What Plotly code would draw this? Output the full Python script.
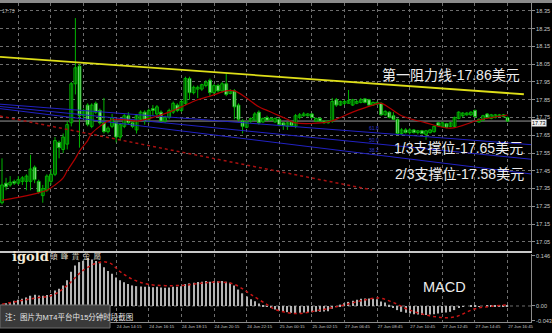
import plotly.graph_objects as go

# ---------------- data ----------------
bar_index = list(range(125))
opens = [17.27, 17.38, 17.37, 17.39, 17.38, 17.39, 17.39, 17.39, 17.47, 17.39,
         17.31, 17.34, 17.39, 17.43, 17.61, 17.57, 17.60, 17.72, 17.94, 18.04,
         17.76, 17.82, 17.70, 17.83, 17.79, 17.72, 17.67, 17.70, 17.72, 17.64,
         17.70, 17.76, 17.72, 17.68, 17.74, 17.78, 17.74, 17.80, 17.77, 17.78,
         17.73, 17.75, 17.78, 17.82, 17.79, 17.83, 17.97, 17.89, 17.91, 17.91,
         17.93, 17.96, 17.89, 17.93, 17.90, 17.94, 17.885, 17.90, 17.82, 17.73,
         17.695, 17.73, 17.735, 17.78, 17.725, 17.75, 17.735, 17.725, 17.74, 17.72,
         17.70, 17.725, 17.70, 17.75, 17.76, 17.76, 17.77, 17.73, 17.745, 17.73,
         17.72, 17.73, 17.85, 17.82, 17.83, 17.83, 17.82, 17.83, 17.835, 17.855,
         17.85, 17.82, 17.825, 17.83, 17.765, 17.78, 17.76, 17.74, 17.66, 17.68,
         17.665, 17.68, 17.665, 17.675, 17.655, 17.665, 17.67, 17.72, 17.70, 17.715,
         17.70, 17.70, 17.745, 17.76, 17.765, 17.765, 17.79, 17.725, 17.735, 17.77,
         17.745, 17.75, 17.76, 17.755, 17.75]
highs = [17.52, 17.41, 17.42, 17.40, 17.42, 17.42, 17.43, 17.54, 17.48, 17.40,
         17.37, 17.43, 17.46, 17.64, 17.62, 17.66, 17.73, 17.95, 18.31, 18.05,
         17.80, 17.83, 17.83, 17.84, 17.80, 17.86, 17.70, 17.77, 17.73, 17.72,
         17.77, 17.78, 17.73, 17.77, 17.79, 17.79, 17.80, 17.82, 17.82, 17.79,
         17.76, 17.80, 17.84, 17.83, 17.85, 17.98, 17.98, 17.93, 17.93, 17.94,
         17.96, 17.97, 17.94, 17.94, 17.95, 18.00, 17.91, 17.91, 17.83, 17.74,
         17.73, 17.75, 17.78, 17.79, 17.75, 17.76, 17.75, 17.75, 17.745, 17.725,
         17.725, 17.73, 17.77, 17.775, 17.78, 17.775, 17.775, 17.75, 17.75, 17.735,
         17.735, 17.86, 17.86, 17.845, 17.85, 17.905, 17.855, 17.85, 17.86, 17.86,
         17.855, 17.84, 17.84, 17.835, 17.79, 17.785, 17.78, 17.745, 17.69, 17.69,
         17.69, 17.685, 17.68, 17.68, 17.68, 17.685, 17.705, 17.725, 17.725, 17.72,
         17.725, 17.755, 17.785, 17.78, 17.78, 17.785, 17.795, 17.745, 17.765, 17.775,
         17.77, 17.77, 17.77, 17.77, 17.755]
lows = [17.26, 17.34, 17.36, 17.37, 17.37, 17.37, 17.34, 17.34, 17.38, 17.32,
        17.27, 17.33, 17.37, 17.42, 17.52, 17.55, 17.57, 17.70, 17.88, 17.58,
        17.74, 17.70, 17.69, 17.77, 17.71, 17.66, 17.66, 17.69, 17.61, 17.62,
        17.69, 17.71, 17.69, 17.66, 17.73, 17.71, 17.72, 17.76, 17.75, 17.72,
        17.72, 17.74, 17.77, 17.78, 17.78, 17.82, 17.85, 17.88, 17.86, 17.90,
        17.92, 17.87, 17.88, 17.89, 17.89, 17.87, 17.88, 17.74, 17.73, 17.66,
        17.69, 17.72, 17.73, 17.71, 17.72, 17.73, 17.73, 17.72, 17.70, 17.68,
        17.68, 17.70, 17.69, 17.74, 17.755, 17.755, 17.745, 17.725, 17.725, 17.715,
        17.715, 17.72, 17.81, 17.815, 17.82, 17.83, 17.815, 17.825, 17.83, 17.83,
        17.815, 17.815, 17.82, 17.76, 17.76, 17.745, 17.735, 17.65, 17.65, 17.66,
        17.655, 17.66, 17.655, 17.655, 17.625, 17.66, 17.665, 17.70, 17.695, 17.69,
        17.695, 17.695, 17.74, 17.75, 17.76, 17.76, 17.75, 17.72, 17.73, 17.745,
        17.74, 17.745, 17.755, 17.75, 17.725]
closes = [17.37, 17.36, 17.385, 17.38, 17.40, 17.41, 17.42, 17.46, 17.40, 17.33,
          17.35, 17.42, 17.43, 17.62, 17.58, 17.64, 17.71, 17.94, 18.03, 17.76,
          17.79, 17.71, 17.82, 17.78, 17.72, 17.67, 17.69, 17.75, 17.64, 17.71,
          17.76, 17.72, 17.70, 17.76, 17.78, 17.73, 17.79, 17.79, 17.81, 17.73,
          17.75, 17.79, 17.83, 17.79, 17.84, 17.97, 17.89, 17.92, 17.92, 17.935,
          17.95, 17.89, 17.93, 17.90, 17.94, 17.88, 17.90, 17.81, 17.74, 17.70,
          17.725, 17.745, 17.77, 17.72, 17.745, 17.735, 17.745, 17.745, 17.71, 17.705,
          17.72, 17.705, 17.76, 17.765, 17.77, 17.77, 17.75, 17.745, 17.73, 17.72,
          17.73, 17.84, 17.82, 17.84, 17.84, 17.845, 17.85, 17.84, 17.85, 17.835,
          17.82, 17.835, 17.835, 17.765, 17.785, 17.75, 17.74, 17.66, 17.68, 17.665,
          17.68, 17.665, 17.675, 17.66, 17.675, 17.68, 17.70, 17.705, 17.72, 17.695,
          17.72, 17.75, 17.78, 17.775, 17.775, 17.78, 17.755, 17.74, 17.76, 17.75,
          17.765, 17.765, 17.765, 17.765, 17.73]

ma_index = [0, 4, 8, 11, 13, 15, 16, 18, 19, 21, 22, 24, 26, 28, 31, 33, 37, 41, 44,
            48, 51, 55, 57, 60, 63, 65, 67, 70, 72, 80, 83, 86, 91, 93, 98, 104,
            110, 117, 124]
ma_values = [17.285, 17.30, 17.32, 17.34, 17.37, 17.41, 17.45, 17.52, 17.56, 17.62,
             17.66, 17.70, 17.73, 17.74, 17.735, 17.73, 17.75, 17.78, 17.81, 17.85,
             17.87, 17.90, 17.90, 17.86, 17.81, 17.79, 17.77, 17.74, 17.72, 17.725,
             17.75, 17.78, 17.82, 17.83, 17.76, 17.72, 17.69, 17.736, 17.764]

resistance_x = [-0.49, 128.0]
resistance_y = [18.091, 17.881]

fan_base_x = [-0.49, 90.75]
fan_base_y = [17.758, 17.342]

fan_x = [-0.49, 129.75]
fan_618 = [17.825, 17.597]
fan_500 = [17.812, 17.515]
fan_382 = [17.800, 17.432]

macd_hist = [0.004, 0.008, 0.012, 0.015, 0.018, 0.021, 0.025, 0.030, 0.033, 0.031,
             0.030, 0.032, 0.035, 0.045, 0.050, 0.060, 0.075, 0.100, 0.118, 0.128,
             0.132, 0.140, 0.136, 0.131, 0.125, 0.113, 0.102, 0.094, 0.083, 0.075,
             0.069, 0.064, 0.060, 0.058, 0.057, 0.056, 0.056, 0.055, 0.056, 0.054,
             0.053, 0.054, 0.056, 0.056, 0.058, 0.064, 0.066, 0.068, 0.070, 0.071,
             0.073, 0.071, 0.073, 0.072, 0.073, 0.071, 0.068, 0.060, 0.048, 0.037,
             0.028, 0.020, 0.014, 0.007, 0.002, -0.002, -0.006, -0.010, -0.013, -0.016,
             -0.018, -0.020, -0.021, -0.020, -0.019, -0.018, -0.018, -0.017, -0.017, -0.016,
             -0.015, -0.008, -0.002, 0.004, 0.008, 0.012, 0.015, 0.018, 0.021, 0.022,
             0.022, 0.021, 0.020, 0.013, 0.010, 0.004, -0.003, -0.012, -0.017, -0.020,
             -0.022, -0.024, -0.025, -0.026, -0.026, -0.025, -0.024, -0.022, -0.020, -0.019,
             -0.017, -0.012, -0.006, -0.002, 0.000, 0.001, 0.001, -0.001, 0.000, 0.001,
             0.002, 0.002, 0.002, 0.002, 0.001]
signal_index = [0, 8, 12.5, 16, 20, 24, 26.5, 29, 32, 36, 44, 48.5, 53, 57, 61, 65, 67,
                72, 78, 84, 88, 92.5, 96, 100, 106, 111, 116, 120, 124]
signal_values = [0.005, 0.023, 0.032, 0.060, 0.105, 0.128, 0.125, 0.100, 0.078, 0.063,
                 0.060, 0.066, 0.070, 0.063, 0.034, 0.004, -0.010, -0.022, -0.012, 0.003,
                 0.015, 0.023, 0.010, -0.012, -0.031, -0.032, -0.008, -0.001, 0.003]

price_ticks = [17.05, 17.15, 17.25, 17.35, 17.45, 17.55, 17.65, 17.75, 17.85, 17.95,
               18.05, 18.15, 18.25, 18.35]
macd_ticks = [0.146, 0.0, -0.043]
macd_tick_labels = ["0.146", "0.00", "-0.043"]
time_tick_index = [4, 12, 20, 28, 36, 44, 52, 60, 68, 76, 84, 92, 100, 108, 116, 124]
time_tick_labels = ["24 Jun 08:15", "24 Jun 10:15", "24 Jun 12:15", "24 Jun 14:15",
                    "24 Jun 16:15", "24 Jun 18:15", "24 Jun 20:15", "24 Jun 22:15",
                    "25 Jun 00:15", "25 Jun 02:15", "27 Jun 06:45", "27 Jun 08:45",
                    "27 Jun 10:45", "27 Jun 12:45", "27 Jun 14:45", "27 Jun 16:45"]

# ---------------- styles ----------------
GREEN = "#00b400"
GRID = "#6e6e6e"
AXIS = "#8c8c8c"
TXT = "#c8c8c8"
LATIN = "Liberation Sans, Arial, sans-serif"
CJK = "Liberation Sans, Noto Sans CJK SC, sans-serif"

fig = go.Figure()

# wicks
wx, wy = [], []
for i, h, l in zip(bar_index, highs, lows):
    wx += [i, i, None]
    wy += [l, h, None]
fig.add_trace(go.Scatter(x=wx, y=wy, mode="lines", line=dict(color=GREEN, width=1),
                         hoverinfo="skip", xaxis="x", yaxis="y"))

# bodies
for bull in (True, False):
    xs, bases, hs = [], [], []
    for i, o, c in zip(bar_index, opens, closes):
        if (c >= o) == bull:
            xs.append(i)
            bases.append(min(o, c))
            hs.append(max(abs(c - o), 0.003))
    fig.add_trace(go.Bar(x=xs, y=hs, base=bases, width=0.7,
                         marker=dict(color="#000000" if bull else "#ffffff",
                                     line=dict(color=GREEN, width=1)),
                         xaxis="x", yaxis="y"))

# fibonacci fan rays
for vals in (fan_618, fan_500, fan_382):
    fig.add_trace(go.Scatter(x=fan_x, y=vals, mode="lines",
                             line=dict(color="#2222c4", width=1), xaxis="x", yaxis="y"))
# fan base line
fig.add_trace(go.Scatter(x=fan_base_x, y=fan_base_y, mode="lines",
                         line=dict(color="#a81010", width=1.5, dash="dot"),
                         xaxis="x", yaxis="y"))
# resistance line
fig.add_trace(go.Scatter(x=resistance_x, y=resistance_y, mode="lines",
                         line=dict(color="#dede18", width=1.8), xaxis="x", yaxis="y"))
# moving average
fig.add_trace(go.Scatter(x=ma_index, y=ma_values, mode="lines", line_shape="spline",
                         line=dict(color="#b00000", width=1.2), xaxis="x", yaxis="y"))

# MACD
fig.add_trace(go.Bar(x=bar_index, y=macd_hist, width=0.3,
                     marker=dict(color="#b4b4b4", line=dict(width=0)),
                     xaxis="x2", yaxis="y2"))
fig.add_trace(go.Scatter(x=signal_index, y=signal_values, mode="lines", line_shape="spline",
                         line=dict(color="#c81414", width=1.5, dash="dot"),
                         xaxis="x2", yaxis="y2"))

xr = [-0.49, 129.75]
common_x = dict(range=xr, tickvals=time_tick_index, showgrid=True, gridcolor=GRID,
                griddash="dot", gridwidth=1, zeroline=False, ticks="", fixedrange=True)

fig.update_layout(
    width=552, height=333,
    margin=dict(l=0, r=21, t=3, b=11),
    paper_bgcolor="#000000", plot_bgcolor="#000000",
    showlegend=False, barmode="overlay",
    xaxis=dict(domain=[0, 1], anchor="y", showticklabels=False, showline=True,
               linecolor="#c8c8c8", linewidth=2, **common_x),
    xaxis2=dict(domain=[0, 1], anchor="y2", matches="x", ticktext=time_tick_labels,
                tickfont=dict(family=LATIN, size=4.3, color=TXT), ticklabelshift=13,
                showline=True, linecolor=AXIS, linewidth=1, **common_x),
    yaxis=dict(domain=[0.2226, 1], range=[16.998, 18.395], side="right", anchor="x",
               tickvals=price_ticks, ticktext=[f"{v:.2f}" for v in price_ticks],
               tickfont=dict(family=LATIN, size=5.6, color=TXT),
               ticks="outside", ticklen=3, tickcolor=AXIS,
               showgrid=True, gridcolor=GRID, griddash="dot", zeroline=False,
               showline=True, linecolor=AXIS, fixedrange=True),
    yaxis2=dict(domain=[0, 0.2132], range=[-0.0467, 0.1518], side="right", anchor="x2",
                tickvals=macd_ticks, ticktext=macd_tick_labels,
                tickfont=dict(family=LATIN, size=5.6, color=TXT),
                ticks="outside", ticklen=3, tickcolor=AXIS,
                showgrid=False, zeroline=False, showline=True, linecolor=AXIS,
                fixedrange=True),
)

shapes = [
    # top gray strip
    dict(type="rect", xref="paper", yref="paper", x0=0, x1=1.04, y0=1.0, y1=1.0094,
         fillcolor="#8a8a8a", line=dict(width=0), layer="above"),
    # current price line
    dict(type="line", xref="x", yref="y", x0=xr[0], x1=xr[1], y0=closes[-1], y1=closes[-1],
         line=dict(color="#9a9a9a", width=1), layer="below"),
    # MACD zero line
    dict(type="line", xref="x2", yref="y2", x0=xr[0], x1=xr[1], y0=0, y1=0,
         line=dict(color=GRID, width=1, dash="dot"), layer="below"),
    # note box
    dict(type="rect", xref="paper", yref="paper", x0=0, x1=0.2072, y0=-0.0188, y1=0.0533,
         fillcolor="#3a3a3a", line=dict(color="#6e6e6e", width=1), layer="above"),
]
fig.update_layout(shapes=shapes)

ann = [
    dict(text="第一阻力线-17.86美元", x=0.7156, y=0.7743, size=14),
    dict(text="1/3支撑位-17.65美元", x=0.7382, y=0.5439, size=14),
    dict(text="2/3支撑位-17.58美元", x=0.7401, y=0.4655, size=14),
    dict(text="MACD", x=0.7928, y=0.1082, size=14.5),
]
for a in ann:
    fig.add_annotation(text=a["text"], xref="paper", yref="paper", x=a["x"], y=a["y"],
                       xanchor="left", yanchor="middle", showarrow=False,
                       font=dict(family=CJK, size=a["size"], color="#ececec"))

for label, yy in (("61.8", 0.6097), ("50.0", 0.5721), ("38.2", 0.5392)):
    fig.add_annotation(text=label, xref="paper", yref="paper", x=0.6911, y=yy,
                       xanchor="left", yanchor="middle", showarrow=False,
                       font=dict(family=LATIN, size=5, color="#3038c8"))

fig.add_annotation(text="<b>igold</b>", xref="paper", yref="paper", x=0.0188, y=0.2038,
                   xanchor="left", yanchor="middle", showarrow=False,
                   font=dict(family="DejaVu Serif, serif", size=13, color="#f2e9d6"))
NB = "\u00a0\u00a0"
fig.add_annotation(text=NB.join(["頡", "峰", "貴", "金", "屬"]), xref="paper", yref="paper",
                   x=0.0904, y=0.2069, xanchor="left", yanchor="middle", showarrow=False,
                   font=dict(family="Noto Sans CJK TC, sans-serif", size=7.5, color="#d8d0c0"))
fig.add_annotation(text="注：图片为MT4平台中15分钟时段截图", xref="paper", yref="paper",
                   x=0.0056, y=0.0172, xanchor="left", yanchor="middle", showarrow=False,
                   font=dict(family=CJK, size=7.5, color="#e6e6e6"))
fig.add_annotation(text="17.73", xref="paper", yref="paper", x=0.0, y=0.992,
                   xanchor="left", yanchor="top", showarrow=False,
                   font=dict(family=LATIN, size=5, color="#bdbdbd"))
# current price tag on the scale
fig.add_annotation(text=f"{closes[-1]:.2f}", xref="paper", yref="y", x=1.0, y=closes[-1],
                   xanchor="left", yanchor="top", yshift=2, showarrow=False,
                   bgcolor="#f0f0f0", borderpad=0,
                   font=dict(family=LATIN, size=5.4, color="#000000"))

fig.write_html("out.html")
